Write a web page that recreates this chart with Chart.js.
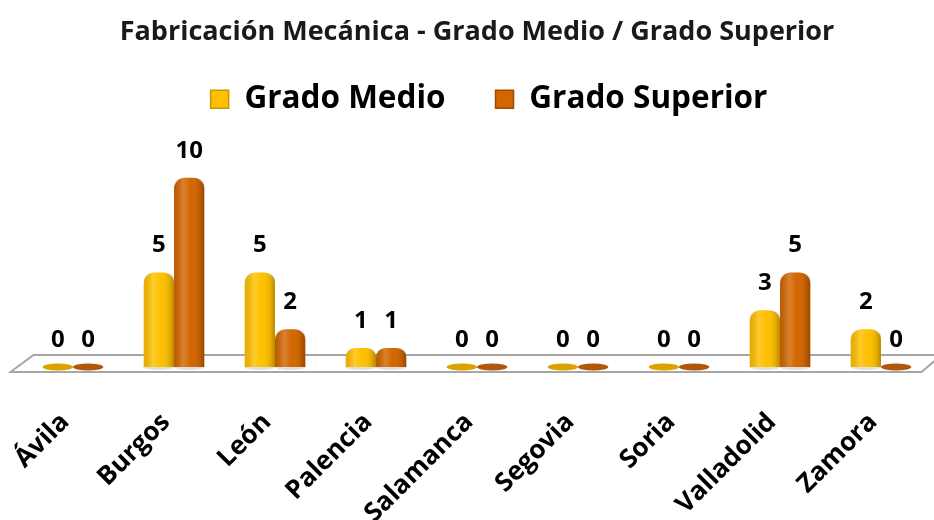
<!DOCTYPE html>
<html>
<head>
<meta charset="utf-8">
<script src="https://cdn.jsdelivr.net/npm/chart.js@4.4.1/dist/chart.umd.min.js"></script>
<style>
  html, body { margin: 0; padding: 0; background: #ffffff; }
  #wrap { width: 934px; height: 520px; position: relative; }
</style>
</head>
<body>
<div id="wrap"><canvas id="c" width="934" height="520"></canvas></div>
<script>
const chartTitle = 'Fabricación Mecánica - Grado Medio / Grado Superior';
const categories = ['Ávila', 'Burgos', 'León', 'Palencia', 'Salamanca', 'Segovia', 'Soria', 'Valladolid', 'Zamora'];
const seriesNames = ['Grado Medio', 'Grado Superior'];
const gradoMedio = [0, 5, 5, 1, 0, 0, 0, 3, 2];
const gradoSuperior = [0, 10, 2, 1, 0, 0, 0, 5, 0];

const FONT = '"Open Sans", Lato, sans-serif';
const baseColors = ['#FFC000', '#D26600'];
const edgeColors = ['#C89600', '#9E4A00'];
const flatColors = ['#D9A300', '#B3560A'];

function domeTopPath(ctx, x0, y0, x1, y1, rx, ry) {
  const h = y1 - y0;
  rx = Math.min(rx, (x1 - x0) / 2);
  ry = Math.min(ry, h);
  ctx.beginPath();
  ctx.moveTo(x0, y1);
  ctx.lineTo(x0, y0 + ry);
  ctx.bezierCurveTo(x0, y0 + ry * 0.3, x0 + rx * 0.3, y0, x0 + rx, y0);
  ctx.lineTo(x1 - rx, y0);
  ctx.bezierCurveTo(x1 - rx * 0.3, y0, x1, y0 + ry * 0.3, x1, y0 + ry);
  ctx.lineTo(x1, y1);
  ctx.closePath();
}

const legendShift = {
  id: 'legendShift',
  afterLayout(chart) {
    if (chart.legend) { chart.legend.left += 12; chart.legend.right += 12; }
  }
};

const floorPlugin = {
  id: 'floor',
  beforeDatasetsDraw(chart) {
    const { ctx, chartArea } = chart;
    const yb = chart.scales.y.getPixelForValue(0);
    const left = chartArea.left, right = chartArea.right;
    ctx.save();
    ctx.beginPath();
    ctx.moveTo(left - 12, yb + 5);
    ctx.lineTo(left + 11, yb - 12);
    ctx.lineTo(right + 10, yb - 12);
    ctx.lineTo(right - 10, yb + 5);
    ctx.closePath();
    ctx.fillStyle = '#ffffff';
    ctx.fill();
    ctx.lineWidth = 2;
    ctx.strokeStyle = '#a6a6a6';
    ctx.stroke();
    ctx.restore();
  }
};

const cylinderPlugin = {
  id: 'cylinder',
  afterDatasetsDraw(chart) {
    const { ctx } = chart;
    ctx.save();
    chart.data.datasets.forEach((ds, di) => {
      const meta = chart.getDatasetMeta(di);
      meta.data.forEach((el, i) => {
        const v = ds.data[i];
        const p = el.getProps(['x', 'y', 'base', 'width'], true);
        const x0 = p.x - p.width / 2, x1 = p.x + p.width / 2;
        if (v === 0) {
          ctx.beginPath();
          ctx.ellipse(p.x, p.base, p.width / 2, 3.5, 0, 0, Math.PI * 2);
          ctx.fillStyle = flatColors[di];
          ctx.fill();
        } else {
          const g = ctx.createLinearGradient(x0, 0, x1, 0);
          g.addColorStop(0, 'rgba(0,0,0,0.10)');
          g.addColorStop(0.3, 'rgba(255,255,255,0.18)');
          g.addColorStop(0.55, 'rgba(255,255,255,0.0)');
          g.addColorStop(0.85, 'rgba(0,0,0,0.10)');
          g.addColorStop(1, 'rgba(0,0,0,0.28)');
          domeTopPath(ctx, x0, p.y, x1, p.base, 12, 9);
          ctx.fillStyle = g;
          ctx.fill();
          ctx.beginPath();
          ctx.ellipse(p.x, p.base, p.width / 2, 3, 0, 0, Math.PI);
          ctx.fillStyle = 'rgba(0,0,0,0.12)';
          ctx.fill();
        }
        ctx.font = 'bold 24px ' + FONT;
        ctx.fillStyle = '#000000';
        ctx.textAlign = 'center';
        ctx.textBaseline = 'middle';
        ctx.fillText(String(v), p.x, (v === 0 ? p.base : p.y) - 27);
      });
    });
    ctx.restore();
  }
};

new Chart(document.getElementById('c'), {
  type: 'bar',
  data: {
    labels: categories,
    datasets: [
      { label: seriesNames[0], data: gradoMedio, backgroundColor: baseColors[0],
        borderRadius: { topLeft: 11, topRight: 11, bottomLeft: 0, bottomRight: 0 }, borderSkipped: 'start' },
      { label: seriesNames[1], data: gradoSuperior, backgroundColor: baseColors[1],
        borderRadius: { topLeft: 11, topRight: 11, bottomLeft: 0, bottomRight: 0 }, borderSkipped: 'start' }
    ]
  },
  options: {
    responsive: false,
    animation: false,
    events: [],
    layout: { padding: { left: 22.5, right: 2.5, top: 16, bottom: 0 } },
    datasets: { bar: { barPercentage: 1.0, categoryPercentage: 0.6 } },
    plugins: {
      title: {
        display: true, text: chartTitle, color: '#1a1a1a',
        font: { family: FONT, size: 27, weight: 'bold' },
        padding: { top: 0, bottom: -15 }
      },
      legend: {
        display: true, position: 'top',
        labels: {
          color: '#000000', font: { family: FONT, size: 31.5, weight: 'bold' },
          boxWidth: 18, boxHeight: 18, padding: 50,
          generateLabels(chart) {
            const items = Chart.defaults.plugins.legend.labels.generateLabels(chart);
            items.forEach((it, k) => { it.lineWidth = 1.5; it.strokeStyle = edgeColors[k]; });
            return items;
          }
        }
      },
      tooltip: { enabled: false }
    },
    scales: {
      x: {
        grid: { display: false, drawTicks: false }, border: { display: false },
        ticks: {
          color: '#000000', font: { family: FONT, size: 26, weight: 'bold' },
          minRotation: 45, maxRotation: 45, padding: 40, labelOffset: -8, autoSkip: false
        },
        afterFit(scale) { scale.height = 153; scale.paddingLeft = 0; scale.paddingRight = 0; }
      },
      y: { display: false, min: 0, max: 12.8 }
    }
  },
  plugins: [legendShift, floorPlugin, cylinderPlugin]
});
</script>
</body>
</html>
